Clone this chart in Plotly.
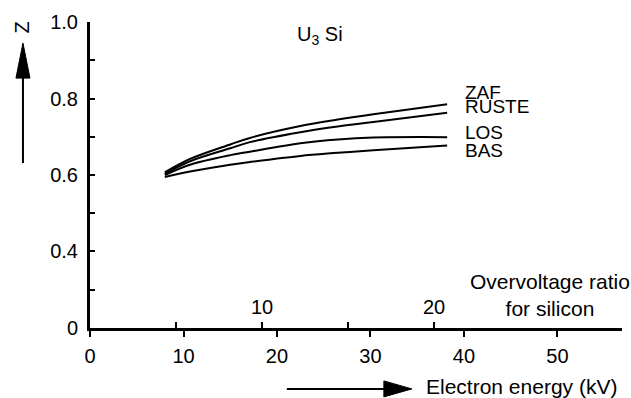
import plotly.graph_objects as go

# ---- data ----
energy_kv = [8.0, 10.7, 15.0, 17.1, 22.5, 26.5, 30.3, 38.2]
z_zaf = [0.607, 0.642, 0.680, 0.697, 0.728, 0.745, 0.759, 0.785]
z_ruste = [0.603, 0.636, 0.670, 0.686, 0.712, 0.727, 0.739, 0.763]
z_los = [0.600, 0.627, 0.652, 0.661, 0.683, 0.693, 0.698, 0.699]
z_bas = [0.595, 0.609, 0.627, 0.634, 0.650, 0.658, 0.665, 0.677]
series_names = ["ZAF", "RUSTE", "LOS", "BAS"]
label_kv = 39.9
label_z = [0.816, 0.779, 0.711, 0.664]

kv_ticks = [0, 10, 20, 30, 40, 50]
z_ticks = [0.2, 0.3, 0.4, 0.5, 0.6, 0.7, 0.8, 0.9, 1.0]
z_ticktext = ["0", "", "0.4", "", "0.6", "", "0.8", "", "1.0"]
si_k_edge_kv = 1.84
ov_ticks = [5, 10, 15, 20]
ov_ticktext = ["", "10", "", "20"]

KV_MAX = 56.9
FONT = "Liberation Sans, Arial, sans-serif"

fig = go.Figure()
for name, z in zip(series_names, [z_zaf, z_ruste, z_los, z_bas]):
    fig.add_trace(go.Scatter(x=energy_kv, y=z, mode="lines", name=name,
                             line=dict(color="black", width=2, shape="spline", smoothing=1.0),
                             showlegend=False, hoverinfo="skip"))
# invisible trace registering the overvoltage axis
fig.add_trace(go.Scatter(x=[e / si_k_edge_kv for e in energy_kv], y=z_bas, xaxis="x2", yaxis="y",
                         mode="lines", line=dict(width=0), opacity=0, showlegend=False, hoverinfo="skip"))

for name, lz in zip(series_names, label_z):
    fig.add_annotation(x=label_kv, y=lz, text=name, showarrow=False, xanchor="left", yanchor="middle",
                       font=dict(size=19, color="black", family=FONT))

fig.add_annotation(x=24.6, y=0.966, text="U<sub>3</sub> Si", showarrow=False,
                   font=dict(size=20, color="black", family=FONT))
fig.add_annotation(x=49.2, y=0.286, text="Overvoltage ratio<br>for silicon", showarrow=False,
                   align="center", font=dict(size=21, color="black", family=FONT))

# Z label
fig.add_annotation(xref="paper", yref="paper", x=-0.154, y=1.008, text="Z", textangle=-90,
                   showarrow=False, font=dict(size=20, color="black", family=FONT))
fig.add_annotation(xref="paper", yref="paper", x=0.628, y=-0.190, text="Electron energy (kV)",
                   showarrow=False, xanchor="left", yanchor="middle",
                   font=dict(size=21, color="black", family=FONT))

# arrows (shafts in paper coords, heads sized in pixels)
shapes = [
    dict(type="line", xref="paper", yref="paper", x0=-0.126, x1=-0.126, y0=0.539, y1=0.85,
         line=dict(color="black", width=2)),
    dict(type="path", xref="paper", yref="paper", xsizemode="pixel", ysizemode="pixel",
         xanchor=-0.126, yanchor=0.931, path="M0,0 L-7,-35 L7,-35 Z",
         fillcolor="black", line=dict(color="black", width=1)),
    dict(type="line", xref="paper", yref="paper", x0=0.370, x1=0.57, y0=-0.199, y1=-0.199,
         line=dict(color="black", width=2)),
    dict(type="path", xref="paper", yref="paper", xsizemode="pixel", ysizemode="pixel",
         xanchor=0.605, yanchor=-0.199, path="M0,0 L-28,8 L-28,-8 Z",
         fillcolor="black", line=dict(color="black", width=1)),
]

fig.update_layout(
    width=631, height=398,
    margin=dict(l=90, r=9, t=22, b=70),
    paper_bgcolor="white", plot_bgcolor="white",
    font=dict(family=FONT, size=20, color="black"),
    shapes=shapes,
    xaxis=dict(range=[0, KV_MAX], tickvals=kv_ticks, ticks="outside", ticklen=6, tickwidth=1.5,
               tickcolor="black", showline=True, linecolor="black", linewidth=2.5,
               showgrid=False, zeroline=False, tickfont=dict(size=20, color="black"),
               ticklabelstandoff=2),
    xaxis2=dict(range=[0, KV_MAX / si_k_edge_kv], overlaying="x", anchor="free", position=0,
                side="top", tickvals=ov_ticks, ticktext=ov_ticktext, ticks="outside", ticklen=6,
                tickwidth=1.5, tickcolor="black", showline=False, showgrid=False,
                zeroline=False, tickfont=dict(size=20, color="black"), ticklabelstandoff=0),
    yaxis=dict(range=[0.1995, 1.0005], tickvals=z_ticks, ticktext=z_ticktext, ticks="inside", ticklen=5,
               tickwidth=1.5, tickcolor="black", showline=True, linecolor="black", linewidth=3,
               showgrid=False, zeroline=False, tickfont=dict(size=20, color="black"),
               ticklabelstandoff=5),
)

fig.write_html("out.html")
